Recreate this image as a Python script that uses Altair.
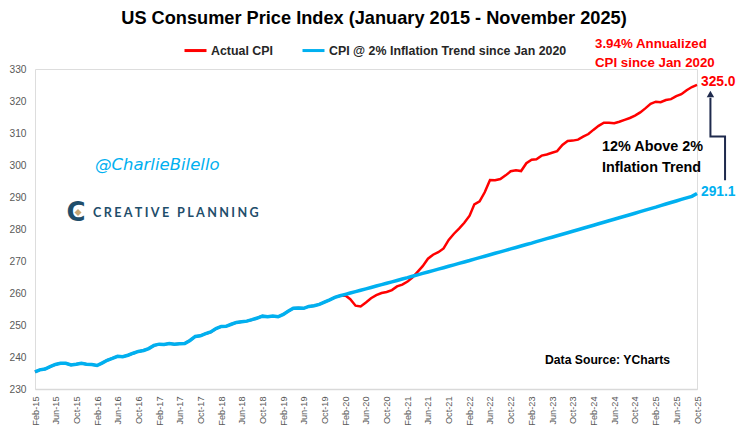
import altair as alt
import pandas as pd

BOLDF = "'Liberation Sans', Arial, sans-serif"
REG = "'Liberation Sans', Arial, sans-serif"

SERIES = ["Actual CPI", "CPI @ 2% Inflation Trend since Jan 2020"]
COLORS = ["#FF0000", "#00B0F0"]

# Monthly categories Feb-15 ... Oct-25
months = pd.date_range("2015-02-01", periods=129, freq="MS")

actual_cpi = [
    235.34, 235.98, 236.22, 237.00, 237.66, 238.03, 238.03, 237.50, 237.73, 238.02, 237.76,
    237.65, 237.34, 238.08, 238.99, 239.56, 240.22, 240.10, 240.55, 241.18, 241.74, 242.03, 242.64,
    243.62, 244.01, 243.89, 244.19, 244.00, 244.16, 244.24, 245.18, 246.44, 246.63, 247.28, 247.81,
    248.86, 249.53, 249.58, 250.23, 250.79, 251.02, 251.21, 251.66, 252.18, 252.77, 252.59, 252.77,
    252.56, 253.32, 254.28, 255.23, 255.30, 255.21, 255.80, 256.04, 256.43, 257.16, 257.88, 258.63,
    259.13, 259.25, 258.08, 256.03, 255.80, 257.04, 258.35, 259.32, 260.00, 260.32, 260.91, 262.05,
    262.64, 263.57, 264.85, 266.63, 268.40, 270.71, 271.97, 272.75, 273.94, 276.59, 278.52, 280.13,
    281.93, 284.18, 287.71, 288.66, 291.47, 295.33, 295.27, 295.62, 296.76, 298.06, 298.35, 298.11,
    300.54, 301.65, 301.81, 302.92, 303.29, 303.84, 304.35, 306.27, 307.48, 307.62, 307.92, 308.85,
    309.69, 311.05, 312.23, 313.21, 313.23, 313.05, 313.53, 314.12, 314.69, 315.45, 316.44, 317.69,
    319.09, 319.78, 319.62, 320.32, 320.58, 321.50, 322.13, 323.36, 324.37, 325.03,
]

trend_since_2020 = [
    259.13, 259.56, 259.99, 260.43, 260.86, 261.30, 261.73, 262.17, 262.61, 263.04, 263.48, 263.92,
    264.36, 264.80, 265.24, 265.68, 266.13, 266.57, 267.01, 267.46, 267.90, 268.35, 268.80, 269.25,
    269.70, 270.15, 270.60, 271.05, 271.50, 271.95, 272.41, 272.86, 273.32, 273.77, 274.23, 274.69,
    275.14, 275.60, 276.06, 276.52, 276.98, 277.44, 277.90, 278.37, 278.83, 279.30, 279.76, 280.23,
    280.69, 281.16, 281.63, 282.10, 282.57, 283.04, 283.51, 283.98, 284.46, 284.93, 285.41, 285.88,
    286.36, 286.84, 287.32, 287.80, 288.28, 288.76, 289.24, 289.72, 290.20, 291.10,
]
trend_cpi = actual_cpi[:59] + trend_since_2020

y_ticks = [230, 240, 250, 260, 270, 280, 290, 300, 310, 320, 330]
x_tick_dates = list(months[::4])

# annotation arrow (date, CPI level)
arrow_dates = ["2026-03-15", "2026-03-15", "2025-12-19", "2025-12-19"]
arrow_levels = [295.2, 308.9, 308.9, 321.0]
arrow_head = ("2025-12-19", 322.2)

df = pd.concat([
    pd.DataFrame({"date": months, "value": actual_cpi, "series": SERIES[0]}),
    pd.DataFrame({"date": months, "value": trend_cpi, "series": SERIES[1]}),
])

W, H = 662, 320

xscale = alt.Scale(domain=[alt.DateTime(year=2015, month=2, date=1),
                           alt.DateTime(year=2025, month=10, date=1)], nice=False)
yscale = alt.Scale(domain=[230, 330], nice=False, zero=False)

xaxis = alt.Axis(
    values=[alt.DateTime(year=d.year, month=d.month, date=1) for d in x_tick_dates],
    format="%b-%y", labelAngle=270, labelFont=REG, labelFontSize=9.2,
    labelColor="#595959", labelPadding=7, ticks=False, grid=False, labelOverlap=False,
    labelBound=False, domain=True, domainColor="#D9D9D9", domainWidth=1.5, title=None,
)
yaxis = alt.Axis(values=y_ticks, labelFont=REG, labelFontSize=10.2, labelColor="#595959",
                 labelPadding=9, ticks=False, grid=False, domain=False, title=None,
                 labelOverlap=False, labelBound=False)

legend = alt.Legend(
    orient="none", legendX=148, legendY=-31, direction="horizontal", title=None,
    symbolType="stroke", symbolSize=484, symbolStrokeWidth=3,
    labelFont=BOLDF, labelFontSize=12.4, labelFontWeight="bold", labelColor="#262626",
    columnPadding=23, labelOffset=3, labelLimit=400,
)
color = alt.Color("series:N", scale=alt.Scale(domain=SERIES, range=COLORS), legend=legend)

base = alt.Chart(df)
x_enc = alt.X("date:T", scale=xscale, axis=xaxis)
y_enc = alt.Y("value:Q", scale=yscale, axis=yaxis)

red = base.transform_filter(alt.datum.series == SERIES[0]).mark_line(strokeWidth=2.5).encode(
    x=x_enc, y=y_enc, color=color)
blue = base.transform_filter(alt.datum.series == SERIES[1]).mark_line(strokeWidth=3.5).encode(
    x=x_enc, y=y_enc, color=color)

end_red = alt.Chart(pd.DataFrame({"date": [months[-1]], "value": [actual_cpi[-1]]})).mark_text(
    align="left", baseline="middle", dx=4, dy=-3, font=BOLDF, fontSize=13.8,
    fontWeight="bold", color=COLORS[0]).encode(
    x=x_enc, y=y_enc, text=alt.Text("value:Q", format=".1f"))
end_blue = alt.Chart(pd.DataFrame({"date": [months[-1]], "value": [trend_cpi[-1]]})).mark_text(
    align="left", baseline="middle", dx=4, dy=-1, font=BOLDF, fontSize=13.8,
    fontWeight="bold", color=COLORS[1]).encode(
    x=x_enc, y=y_enc, text=alt.Text("value:Q", format=".1f"))

arrow = alt.Chart(pd.DataFrame({"date": pd.to_datetime(arrow_dates), "value": arrow_levels,
                                "o": list(range(len(arrow_dates)))})).mark_line(
    color="#1F2A4D", strokeWidth=2, clip=False).encode(
    x=x_enc, y=y_enc, order="o:Q")
head = alt.Chart(pd.DataFrame({"date": pd.to_datetime([arrow_head[0]]), "value": [arrow_head[1]]})).mark_point(
    shape="triangle-up", filled=True, size=55, color="#1F2A4D", opacity=1, clip=False).encode(
    x=x_enc, y=y_enc)

one = pd.DataFrame({"k": [0]})


def txt(text, x, y, size, color="#000000", align="left", font=BOLDF, weight="bold", style="normal"):
    return alt.Chart(one).mark_text(
        text=text, align=align, baseline="middle", fontSize=size, color=color,
        font=font, fontWeight=weight, fontStyle=style).encode(
        x=alt.value(x), y=alt.value(y))


SP = "\u2009\u200a"
logo_text = SP.join(list("CREATIVE")) + SP + " " + SP + SP.join(list("PLANNING"))

texts = [
    txt("US Consumer Price Index (January 2015 -  November 2025)", 339, -50.5, 18.2, "#000000", "center"),
    txt("3.94% Annualized", 560, -25, 13.3, "#FF0000"),
    txt("CPI since Jan 2020", 560, -6, 13.3, "#FF0000"),
    txt("12% Above 2%", 567, 78, 14.4),
    txt("Inflation Trend", 567, 98.5, 14.4),
    txt("Data Source: YCharts", 510, 291, 12.2),
    txt("@CharlieBilello", 60, 96, 16.5, "#00B0F0", font="'DejaVu Sans', sans-serif",
        weight="normal", style="italic"),
    txt(logo_text, 58, 143.5, 12.6, "#1F4E6B", font="Lato, sans-serif", weight="bold"),
    txt("C", 41, 143.5, 26, "#1F4E6B", "center", font="'DejaVu Sans', sans-serif", weight="bold"),
]
gold = alt.Chart(one).mark_point(shape="diamond", filled=True, size=50, color="#C9A875", opacity=1).encode(
    x=alt.value(43), y=alt.value(143.5))

chart = alt.layer(red, blue, end_red, end_blue, arrow, head, *texts, gold).properties(
    width=W, height=H,
    autosize=alt.AutoSizeParams(type="none"),
    padding={"left": 27, "top": 61, "right": 39, "bottom": 37},
).configure_view(stroke=None).configure(background="white")

chart.save("out.html", embed_options={"renderer": "svg", "actions": False})
